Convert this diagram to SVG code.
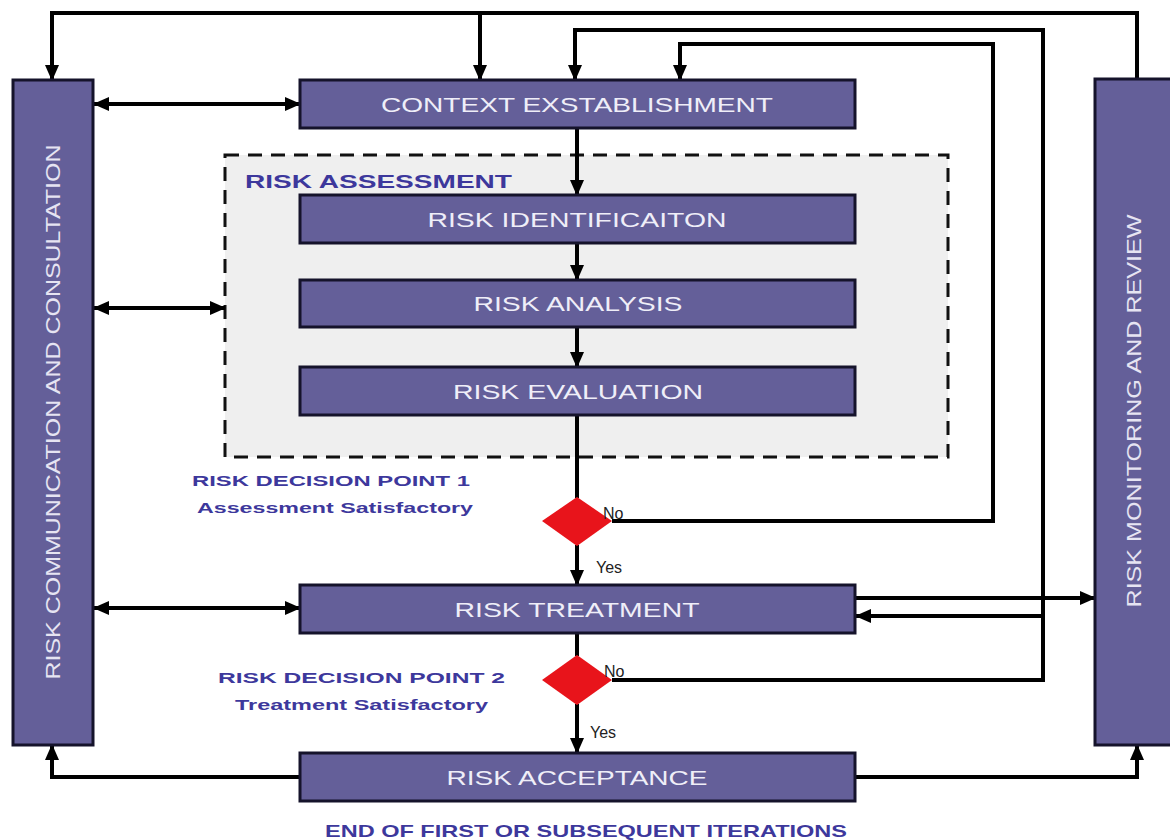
<svg xmlns="http://www.w3.org/2000/svg" width="1170" height="840" viewBox="0 0 1170 840">
  <style>
    .box { fill: #645f99; stroke: #15132b; stroke-width: 3; }
    .boxtxt { font-family: "Liberation Sans", Arial, sans-serif; font-size: 21px; fill: #efeef8; text-anchor: middle; }
    .bartxt { font-family: "Liberation Sans", Arial, sans-serif; font-size: 20px; fill: #e6e4f2; text-anchor: middle; }
    .lbl { font-family: "Liberation Sans", Arial, sans-serif; font-weight: bold; fill: #3d389c; }
    .yn { font-family: "Liberation Sans", Arial, sans-serif; font-size: 16px; fill: #222; }
    .wire { fill: none; stroke: #000; stroke-width: 4; stroke-linejoin: miter; }
    .arr { marker-end: url(#ah); }
    .dbl { marker-start: url(#ah); marker-end: url(#ah); }
    .dec { fill: #e8141b; }
  </style>
  <defs>
    <marker id="ah" markerUnits="userSpaceOnUse" markerWidth="16" markerHeight="16" viewBox="0 0 16 16" refX="15" refY="8" orient="auto-start-reverse">
      <path d="M0,1 L16,8 L0,15 Z" fill="#000"/>
    </marker>
  </defs>

  <rect width="1170" height="840" fill="#ffffff"/>

  <!-- risk assessment container -->
  <g id="risk-assessment">
    <rect x="225" y="155" width="723" height="302" fill="#efefef" stroke="#111" stroke-width="3" stroke-dasharray="14 9"/>
    <text class="lbl" x="245" y="188" font-size="19" textLength="267" lengthAdjust="spacingAndGlyphs">RISK ASSESSMENT</text>
  </g>

  <!-- connectors -->
  <g id="connectors">
    <!-- outer feedback loop from monitoring -->
    <path class="wire arr" d="M1137,80 V13 H52 V80"/>
    <path class="wire arr" d="M480,13 V80"/>
    <!-- treatment not satisfactory loop -->
    <path class="wire arr" d="M612,680 H1043 V30 H575 V80"/>
    <path class="wire arr" d="M1043,616 H856"/>
    <!-- assessment not satisfactory loop -->
    <path class="wire arr" d="M612,521 H993 V44 H680 V80"/>
    <!-- main flow -->
    <path class="wire arr" d="M577,128 V195"/>
    <path class="wire arr" d="M577,243 V280"/>
    <path class="wire arr" d="M577,327 V367"/>
    <path class="wire" d="M577,415 V498"/>
    <path class="wire arr" d="M577,545 V585"/>
    <path class="wire" d="M577,633 V656"/>
    <path class="wire arr" d="M577,704 V753"/>
    <!-- treatment to monitoring -->
    <path class="wire arr" d="M856,598 H1095"/>
    <!-- acceptance outputs -->
    <path class="wire arr" d="M300,777 H52 V745"/>
    <path class="wire arr" d="M855,777 H1137 V745"/>
    <!-- communication links -->
    <path class="wire dbl" d="M94,104 H300"/>
    <path class="wire dbl" d="M94,308 H225"/>
    <path class="wire dbl" d="M94,608 H300"/>
  </g>

  <g id="communication">
    <rect class="box" x="13" y="80" width="80" height="665"/>
    <text class="bartxt" transform="translate(60,412) rotate(-90)" textLength="535" lengthAdjust="spacingAndGlyphs">RISK COMMUNICATION AND CONSULTATION</text>
  </g>

  <g id="monitoring">
    <rect class="box" x="1095" y="79" width="80" height="666"/>
    <text class="bartxt" transform="translate(1141,411) rotate(-90)" textLength="393" lengthAdjust="spacingAndGlyphs">RISK MONITORING AND REVIEW</text>
  </g>

  <g id="context">
    <rect class="box" x="300" y="80" width="555" height="48"/>
    <text class="boxtxt" x="577" y="112" textLength="392" lengthAdjust="spacingAndGlyphs">CONTEXT EXSTABLISHMENT</text>
  </g>

  <g id="identification">
    <rect class="box" x="300" y="195" width="555" height="48"/>
    <text class="boxtxt" x="577" y="227" textLength="299" lengthAdjust="spacingAndGlyphs">RISK IDENTIFICAITON</text>
  </g>

  <g id="analysis">
    <rect class="box" x="300" y="280" width="555" height="47"/>
    <text class="boxtxt" x="578" y="311" textLength="209" lengthAdjust="spacingAndGlyphs">RISK ANALYSIS</text>
  </g>

  <g id="evaluation">
    <rect class="box" x="300" y="367" width="555" height="48"/>
    <text class="boxtxt" x="578" y="399" textLength="250" lengthAdjust="spacingAndGlyphs">RISK EVALUATION</text>
  </g>

  <g id="decision-1">
    <polygon class="dec" points="542,521 577,497 612,521 577,546"/>
    <text class="yn" x="603" y="519">No</text>
    <text class="yn" x="596" y="573">Yes</text>
    <text class="lbl" x="192" y="486" font-size="15" textLength="278" lengthAdjust="spacingAndGlyphs">RISK  DECISION  POINT 1</text>
    <text class="lbl" x="197" y="513" font-size="15" textLength="276" lengthAdjust="spacingAndGlyphs">Assessment Satisfactory</text>
  </g>

  <g id="treatment">
    <rect class="box" x="300" y="585" width="555" height="48"/>
    <text class="boxtxt" x="577" y="617" textLength="245" lengthAdjust="spacingAndGlyphs">RISK TREATMENT</text>
  </g>

  <g id="decision-2">
    <polygon class="dec" points="542,680 577,655 612,680 577,705"/>
    <text class="yn" x="604" y="677">No</text>
    <text class="yn" x="590" y="738">Yes</text>
    <text class="lbl" x="218" y="683" font-size="15" textLength="287" lengthAdjust="spacingAndGlyphs">RISK  DECISION  POINT 2</text>
    <text class="lbl" x="235" y="710" font-size="15" textLength="253" lengthAdjust="spacingAndGlyphs">Treatment Satisfactory</text>
  </g>

  <g id="acceptance">
    <rect class="box" x="300" y="753" width="555" height="48"/>
    <text class="boxtxt" x="577" y="785" textLength="261" lengthAdjust="spacingAndGlyphs">RISK ACCEPTANCE</text>
    <text class="lbl" x="325" y="837" font-size="17" textLength="522" lengthAdjust="spacingAndGlyphs">END OF FIRST OR SUBSEQUENT ITERATIONS</text>
  </g>
</svg>
